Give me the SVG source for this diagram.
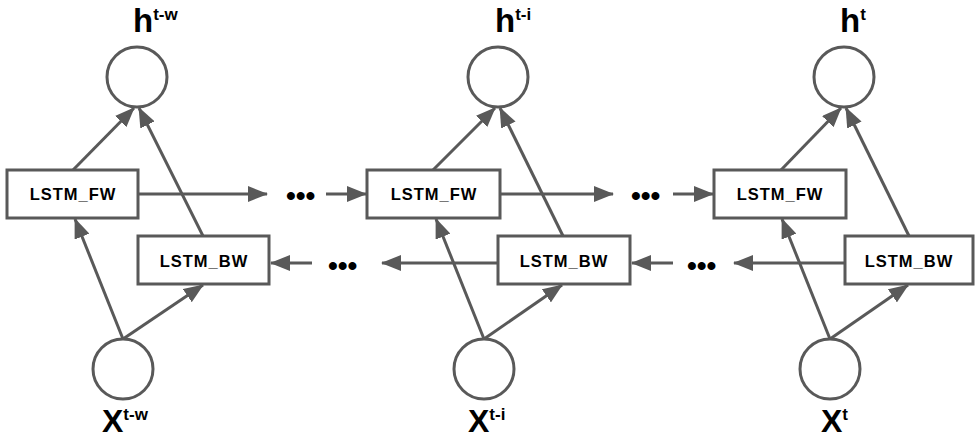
<svg xmlns="http://www.w3.org/2000/svg" width="976" height="439" viewBox="0 0 976 439">
<style>
  .node { fill: #ffffff; stroke: #595959; stroke-width: 3; }
  .conn { stroke: #595959; stroke-width: 3; fill: none; marker-end: url(#ah); }
  .box-label { font-family: "Liberation Sans", Arial, sans-serif; font-weight: bold; font-size: 16.5px; letter-spacing: 1px; fill: #000; text-anchor: middle; }
  .big { font-family: "Liberation Sans", Arial, sans-serif; font-weight: bold; font-size: 33px; fill: #000; }
  .bigx { font-family: "Liberation Sans", Arial, sans-serif; font-weight: bold; font-size: 32px; fill: #000; }
  .sup { font-size: 17px; }
  .dots { font-family: "Liberation Sans", "DejaVu Sans", sans-serif; font-weight: bold; font-size: 28px; letter-spacing: 0px; fill: #000; }
</style>
<defs>
  <marker id="ah" markerUnits="userSpaceOnUse" markerWidth="20" markerHeight="16" refX="19" refY="8" orient="auto">
    <path d="M0,0 L20,8 L0,16 z" fill="#595959"/>
  </marker>
</defs>
<rect width="976" height="439" fill="#ffffff"/>

<g id="connectors">
  <!-- column 1 -->
  <line class="conn" x1="73" y1="170" x2="134" y2="108"/>
  <line class="conn" x1="203" y1="236" x2="139" y2="108"/>
  <line class="conn" x1="123" y1="339" x2="75" y2="219"/>
  <line class="conn" x1="123" y1="339" x2="203" y2="285"/>
  <!-- column 2 -->
  <line class="conn" x1="433" y1="170" x2="495" y2="108"/>
  <line class="conn" x1="563" y1="236" x2="500" y2="108"/>
  <line class="conn" x1="484" y1="339" x2="436" y2="219"/>
  <line class="conn" x1="484" y1="339" x2="562" y2="285"/>
  <!-- column 3 -->
  <line class="conn" x1="781" y1="170" x2="841" y2="108"/>
  <line class="conn" x1="909" y1="236" x2="846" y2="108"/>
  <line class="conn" x1="830" y1="339" x2="782" y2="219"/>
  <line class="conn" x1="830" y1="339" x2="908" y2="285"/>
  <!-- horizontal forward -->
  <line class="conn" x1="138" y1="194" x2="267" y2="194"/>
  <line class="conn" x1="326" y1="194" x2="366" y2="194"/>
  <line class="conn" x1="500" y1="194" x2="613" y2="194"/>
  <line class="conn" x1="673" y1="194" x2="713" y2="194"/>
  <!-- horizontal backward -->
  <line class="conn" x1="845" y1="263" x2="734" y2="263"/>
  <line class="conn" x1="673" y1="263" x2="632" y2="263"/>
  <line class="conn" x1="498" y1="263" x2="382" y2="263"/>
  <line class="conn" x1="312" y1="263" x2="271" y2="263"/>
</g>

<g id="dots">
  <text class="dots" x="286" y="205">•••</text>
  <text class="dots" x="631" y="205">•••</text>
  <text class="dots" x="328" y="275">•••</text>
  <text class="dots" x="687" y="275">•••</text>
</g>

<g id="h1"><circle class="node" cx="137" cy="77" r="30"/><text class="big" x="133" y="32">h<tspan class="sup" dy="-12">t-w</tspan></text></g>
<g id="h2"><circle class="node" cx="498" cy="77" r="30"/><text class="big" x="495" y="32">h<tspan class="sup" dy="-12">t-i</tspan></text></g>
<g id="h3"><circle class="node" cx="844" cy="77" r="30"/><text class="big" x="840" y="32">h<tspan class="sup" dy="-12">t</tspan></text></g>

<g id="fw1"><rect class="node" x="7" y="170" width="131" height="48"/><text class="box-label" x="73" y="200">LSTM_FW</text></g>
<g id="fw2"><rect class="node" x="367" y="170" width="133" height="48"/><text class="box-label" x="434" y="200">LSTM_FW</text></g>
<g id="fw3"><rect class="node" x="714" y="170" width="132" height="48"/><text class="box-label" x="780" y="200">LSTM_FW</text></g>

<g id="bw1"><rect class="node" x="138" y="236" width="131" height="48"/><text class="box-label" x="204" y="267">LSTM_BW</text></g>
<g id="bw2"><rect class="node" x="498" y="236" width="132" height="48"/><text class="box-label" x="564" y="267">LSTM_BW</text></g>
<g id="bw3"><rect class="node" x="845" y="236" width="128" height="48"/><text class="box-label" x="909" y="267">LSTM_BW</text></g>

<g id="x1"><circle class="node" cx="123" cy="369" r="30"/><text class="bigx" x="102" y="432">X<tspan class="sup" dy="-12">t-w</tspan></text></g>
<g id="x2"><circle class="node" cx="484" cy="369" r="30"/><text class="bigx" x="468" y="432">X<tspan class="sup" dy="-12">t-i</tspan></text></g>
<g id="x3"><circle class="node" cx="830" cy="369" r="30"/><text class="bigx" x="821" y="432">X<tspan class="sup" dy="-12">t</tspan></text></g>
</svg>
